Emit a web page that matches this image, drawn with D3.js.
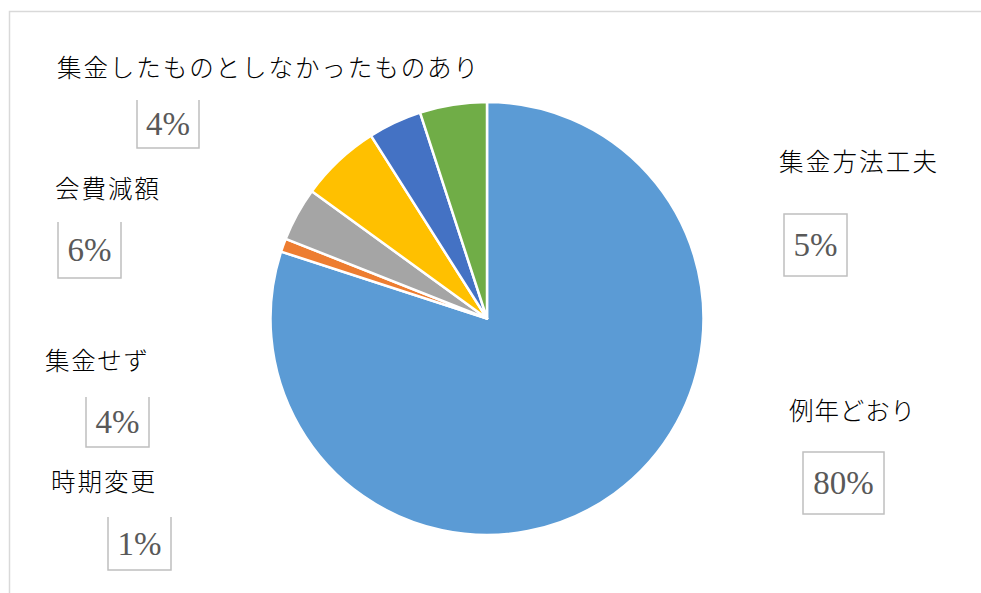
<!DOCTYPE html>
<html><head><meta charset="utf-8">
<script src="https://cdn.jsdelivr.net/npm/d3@7"></script>
<style>body{margin:0;background:#fff}svg{display:block}</style>
</head><body>
<script>
const categories = ["例年どおり","時期変更","集金せず","会費減額","集金したものとしなかったものあり","集金方法工夫"];
const values = [80,1,4,6,4,5];
const pctLabels = ["80%","1%","4%","6%","4%","5%"];
const colors = ["#5B9BD5","#ED7D31","#A5A5A5","#FFC000","#4472C4","#70AD47"];

const W=981,H=593;
const svg=d3.select("body").append("svg").attr("width",W).attr("height",H);
svg.append("rect").attr("x",9.5).attr("y",11.5).attr("width",1000).attr("height",700)
  .attr("fill","#fff").attr("stroke","#d9d9d9").attr("stroke-width",1.5);

const cx=487,cy=318.5,r=216.5;
svg.append("clipPath").attr("id","pc").append("rect").attr("x",0).attr("y",103).attr("width",W).attr("height",H);
const pie=d3.pie().sort(null).value(d=>d)(values);
const arc=d3.arc().innerRadius(0).outerRadius(r);
svg.append("g").attr("clip-path","url(#pc)")
  .append("g").attr("transform",`translate(${cx},${cy})`)
  .selectAll("path").data(pie).join("path")
  .attr("d",arc).attr("fill",(d,i)=>colors[i]).attr("stroke","#fff").attr("stroke-width",2.5).attr("stroke-linejoin","round");

// label layout (per category index)
const layout=[
  {nx:789,nb:420,nw:126,bx:803,by:452,bw:81,bh:62,full:true},
  {nx:51,nb:491,nw:104,bx:108,by:517,bw:63,bh:53,full:false},
  {nx:45,nb:370,nw:103,bx:86,by:397,bw:63,bh:50,full:false},
  {nx:55,nb:198,nw:104,bx:58,by:222,bw:63,bh:56,full:false},
  {nx:57,nb:77,nw:421,bx:137,by:100,bw:62,bh:48,full:false},
  {nx:779,nb:171,nw:158,bx:784,by:214,bw:63,bh:62,full:true}
];
const lg=svg.append("g");
categories.forEach((c,i)=>{
  const L=layout[i];
  const g=lg.append("g");
  g.append("text").attr("x",L.nx).attr("y",L.nb).text(c)
    .attr("font-family","'Noto Sans CJK JP'").attr("font-weight",300).attr("font-size",24.5)
    .attr("textLength",L.nw).attr("lengthAdjust","spacing")
    .attr("fill","#000");
  if(L.full){
    g.append("rect").attr("x",L.bx).attr("y",L.by).attr("width",L.bw).attr("height",L.bh)
      .attr("fill","none").attr("stroke","#bfbfbf").attr("stroke-width",1.5);
  } else {
    g.append("path").attr("d",`M${L.bx},${L.by}V${L.by+L.bh}H${L.bx+L.bw}V${L.by}`)
      .attr("fill","none").attr("stroke","#bfbfbf").attr("stroke-width",1.5);
  }
  g.append("text").attr("x",L.bx+L.bw/2).attr("y",L.by+L.bh/2+11).attr("text-anchor","middle")
    .text(pctLabels[i]).attr("font-family","'Liberation Serif'").attr("font-size",33).attr("fill","#595959");
});
</script>
</body></html>
